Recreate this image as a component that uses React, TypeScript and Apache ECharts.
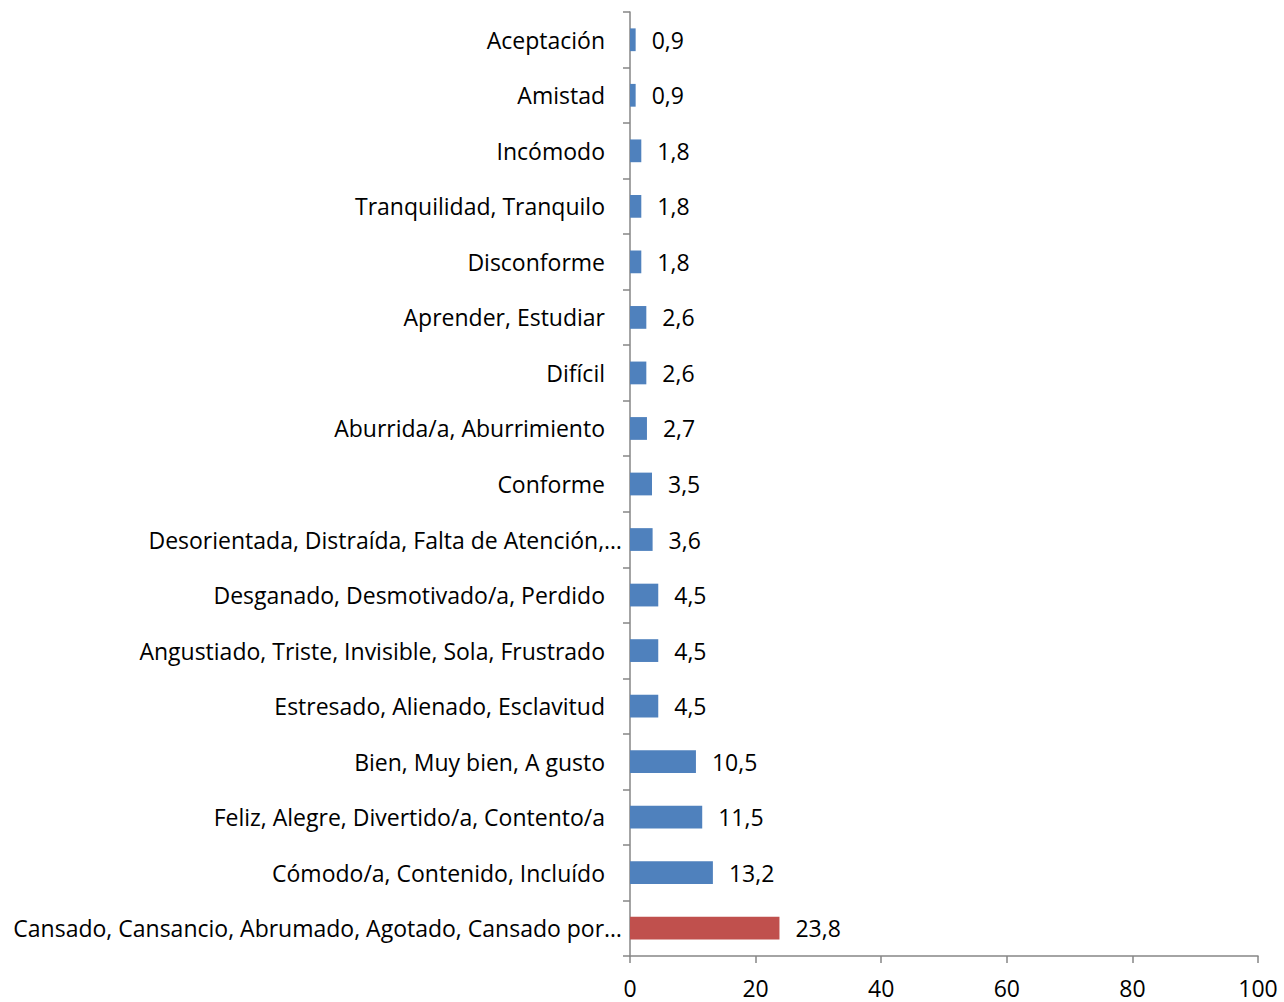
import React, { useEffect, useRef } from "react";
import * as echarts from "echarts";

const categories = [
  "Aceptación",
  "Amistad",
  "Incómodo",
  "Tranquilidad, Tranquilo",
  "Disconforme",
  "Aprender, Estudiar",
  "Difícil",
  "Aburrida/a, Aburrimiento",
  "Conforme",
  "Desorientada, Distraída, Falta de Atención,…",
  "Desganado, Desmotivado/a, Perdido",
  "Angustiado, Triste, Invisible, Sola, Frustrado",
  "Estresado, Alienado, Esclavitud",
  "Bien, Muy bien, A gusto",
  "Feliz, Alegre, Divertido/a, Contento/a",
  "Cómodo/a, Contenido, Incluído",
  "Cansado, Cansancio, Abrumado, Agotado, Cansado por…",
];
const values = [0.9, 0.9, 1.8, 1.8, 1.8, 2.6, 2.6, 2.7, 3.5, 3.6, 4.5, 4.5, 4.5, 10.5, 11.5, 13.2, 23.8];
const highlightIndex = 16;
const xTicks = [0, 20, 40, 60, 80, 100];

const BLUE = "#4F81BD";
const RED = "#C0504D";
const AXIS = "#868686";
const FONT = "Open Sans";
const FS = 23;

export default function App() {
  const ref = useRef<HTMLDivElement>(null);
  useEffect(() => {
    const chart = echarts.init(ref.current!, null, { renderer: "svg" });
    chart.setOption({
      animation: false,
      grid: { left: 630, right: 26, top: 12, bottom: 46, containLabel: false },
      xAxis: {
        type: "value",
        min: xTicks[0],
        max: xTicks[xTicks.length - 1],
        interval: 20,
        axisLine: { show: true, lineStyle: { color: AXIS, width: 1.5 } },
        axisTick: { show: true, length: 7, lineStyle: { color: AXIS, width: 1.5 } },
        splitLine: { show: false },
        axisLabel: { color: "#000", fontSize: FS, fontFamily: FONT, margin: 20 },
      },
      yAxis: {
        type: "category",
        inverse: true,
        data: categories.map((c) =>
          c.endsWith("…") ? { value: c, textStyle: { padding: [0, -17, 0, 0] } } : c
        ),
        axisLine: { show: true, lineStyle: { color: AXIS, width: 1.5 } },
        axisTick: { show: true, length: 7, lineStyle: { color: AXIS, width: 1.5 } },
        axisLabel: { color: "#000", fontSize: FS, fontFamily: FONT, margin: 25 },
      },
      series: [
        {
          type: "bar",
          barWidth: "41%",
          data: values.map((v, i) => ({
            value: v,
            itemStyle: { color: i === highlightIndex ? RED : BLUE },
          })),
          label: {
            show: true,
            position: "right",
            distance: 16,
            color: "#000",
            fontSize: FS,
            fontFamily: FONT,
            formatter: (p: any) => String(p.value).replace(".", ","),
          },
        },
      ],
    });
    return () => chart.dispose();
  }, []);
  return (
    <div
      ref={ref}
      style={{ position: "fixed", left: 0, top: 0, width: 1284, height: 1002, background: "#fff" }}
    />
  );
}
